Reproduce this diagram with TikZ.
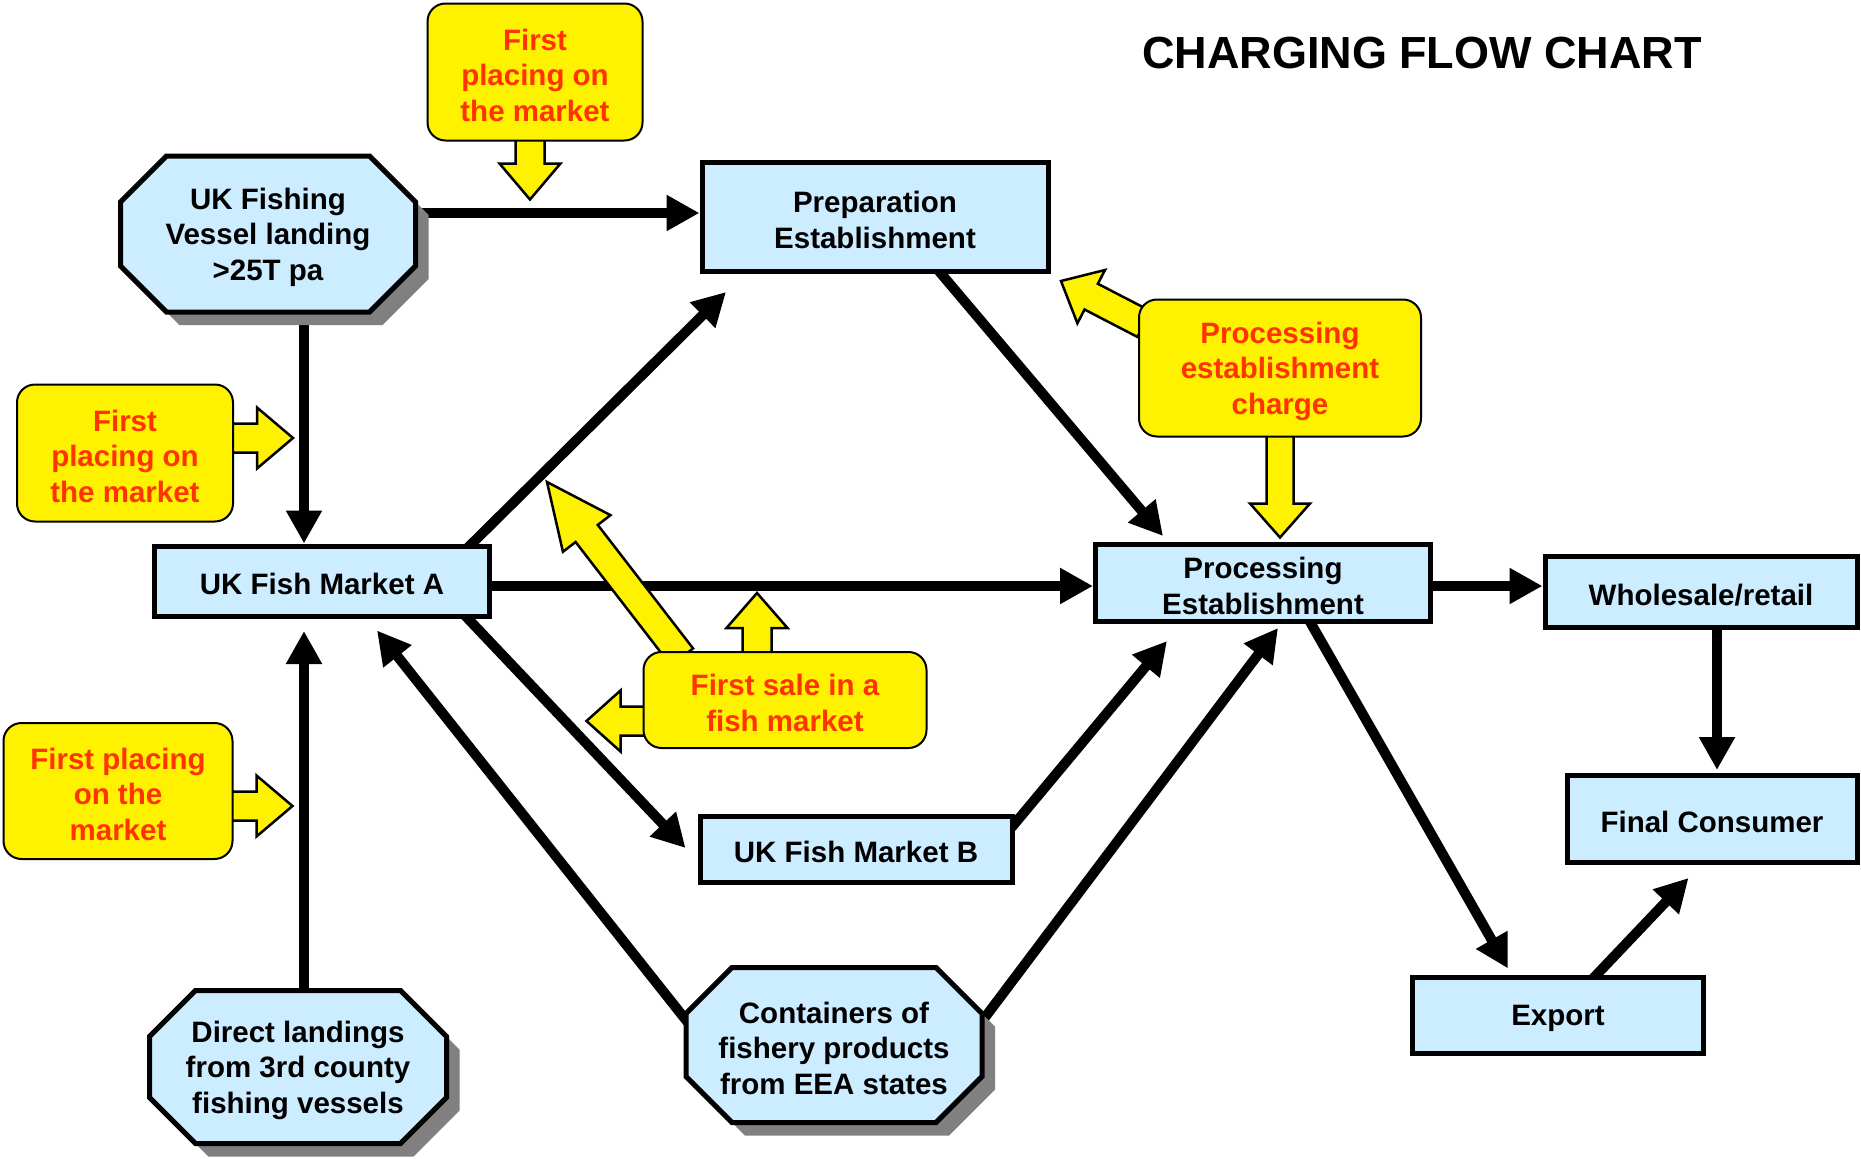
\documentclass[tikz,border=0pt]{standalone}
\usepackage{fontspec}
\setmainfont{Liberation Sans}
\usetikzlibrary{arrows.meta,calc}
\pgfdeclarelayer{back}\pgfdeclarelayer{bg}\pgfdeclarelayer{mid}
\pgfsetlayers{back,bg,mid,main}
\definecolor{boxblue}{HTML}{CCECFF}
\definecolor{redtext}{HTML}{FF3300}
\definecolor{shadowgray}{HTML}{808080}
\newcommand\boxfont{\fontsize{29.5}{35.5}\selectfont\bfseries}
\newcommand\zs{\rule[-1pt]{0pt}{29pt}}
\tikzset{
  boxtext/.style={align=center, font=\boxfont, inner sep=0pt},
  bluebox/.style={boxtext, draw, line width=5pt, fill=boxblue},
  yellowbox/.style={boxtext, draw, line width=2pt, fill=yellow, rounded corners=18pt, text=redtext},
  octtext/.style={boxtext, outer sep=0pt},
  conn/.style={line width=10pt, -{Triangle[length=33pt,width=34pt]}},
  yarr/.style={fill=yellow, draw=black, line width=2.5pt, line join=miter},
}
% octagon with shadow: name, cx, cy, w, h, text
\newcommand\octo[6]{%
  \pgfmathsetmacro\oa{#4/2-2.5}\pgfmathsetmacro\ob{#5/2-2.5}%
  \fill[shadowgray,shift={(#2+13,#3+13)}] (-\oa+46,-\ob) -- (\oa-46,-\ob) -- (\oa,-\ob+46) -- (\oa,\ob-46) -- (\oa-46,\ob) -- (-\oa+46,\ob) -- (-\oa,\ob-46) -- (-\oa,-\ob+46) -- cycle;
  \filldraw[fill=boxblue,line width=5pt,shift={(#2,#3)}] (-\oa+46,-\ob) -- (\oa-46,-\ob) -- (\oa,-\ob+46) -- (\oa,\ob-46) -- (\oa-46,\ob) -- (-\oa+46,\ob) -- (-\oa,\ob-46) -- (-\oa,-\ob+46) -- cycle;
  \node[octtext,minimum width=#4pt,minimum height=#5pt] (#1) at (#2,#3) {#6};
}
% yellow block arrow: start, tip, shaft half width, head half width, head length
\newcommand\yarrow[5]{%
  \coordinate (yaC) at ($(#2)!#5!(#1)$);
  \filldraw[yarr] ($(#1)!#3!90:(#2)$) -- ($(yaC)!#3!90:(#2)$) -- ($(yaC)!#4!90:(#2)$) -- (#2) -- ($(yaC)!#4!-90:(#2)$) -- ($(yaC)!#3!-90:(#2)$) -- ($(#1)!#3!-90:(#2)$) -- cycle;
}
\begin{document}
\begin{tikzpicture}[x=1pt,y=-1pt]
\useasboundingbox (0,0) rectangle (1861,1159);
\begin{pgfonlayer}{back}
\fill[white] (0,0) rectangle (1861,1159);
\end{pgfonlayer}

\node[font=\fontsize{45}{50}\selectfont\bfseries] (title) at (1422,53) {CHARGING FLOW CHART};

% blue boxes
\node[bluebox, minimum width=346pt, minimum height=109pt] (prep) at (875,217) {\zs Preparation\\\zs Establishment};
\node[bluebox, minimum width=335pt, minimum height=70pt] (marketA) at (322,581) {\zs UK Fish Market A};
\node[bluebox, minimum width=335pt, minimum height=77pt] (proc) at (1263,583) {\zs Processing\\\zs Establishment};
\node[bluebox, minimum width=312pt, minimum height=71pt] (wholesale) at (1701,592) {\zs Wholesale/retail};
\node[bluebox, minimum width=290pt, minimum height=87pt] (final) at (1712,819) {\zs Final Consumer};
\node[bluebox, minimum width=291pt, minimum height=76pt] (export) at (1558,1015) {\zs Export};
\node[bluebox, minimum width=312pt, minimum height=66pt] (marketB) at (856,849) {\zs UK Fish Market B};

% octagons
\octo{vessel}{268}{234}{300}{161}{\zs UK Fishing\\\zs Vessel landing\\\zs >25T pa}
\octo{direct}{298}{1067}{302}{158}{\zs Direct landings\\\zs from 3rd county\\\zs fishing vessels}
\octo{containers}{834}{1045}{301}{160}{\zs Containers of\\\zs fishery products\\\zs from EEA states}

% yellow boxes
\node[yellowbox, minimum width=215pt, minimum height=137pt] (y1) at (535,72) {\zs First\\\zs placing on\\\zs the market};
\node[yellowbox, minimum width=216pt, minimum height=137pt] (y2) at (125,453) {\zs First\\\zs placing on\\\zs the market};
\node[yellowbox, minimum width=283pt, minimum height=96pt] (y3) at (785,700) {\zs First sale in a\\\zs fish market};
\node[yellowbox, minimum width=282pt, minimum height=137pt] (y4) at (1280,368) {\zs Processing\\\zs establishment\\\zs charge};
\node[yellowbox, minimum width=229pt, minimum height=136pt] (y5) at (118,791) {\zs First placing\\\zs on the\\\zs market};

% black connectors
\begin{pgfonlayer}{bg}
\draw[conn] ($(vessel.east)+(0,-21)$) -- ($(prep.west)+(0,-4)$);
\draw[conn] ($(vessel.south)+(36,0)$) -- ($(marketA.north)+(-18,0)$);
\draw[conn] ($(direct.north)+(6,0)$) -- ($(marketA.south)+(-18,12.5)$);
\draw[conn] ($(containers.west)+(4,-23)$) -- ($(marketA.south)+(55,12)$);
\draw[conn] ($(marketA.north east)+(-24,4)$) -- ($(prep.south west)+(26.5,18)$);
\draw[conn] ($(marketA.east)+(0,5)$) -- ($(proc.west)+(0,3)$);
\draw[conn] ($(marketA.south east)+(-27,-3)$) -- ($(marketB.west)+(-12,-1)$);
\draw[conn] ($(prep.south)+(63,-4)$) -- ($(proc.north west)+(70,-6)$);
\draw[conn] ($(marketB.north east)+(-3,14)$) -- ($(proc.south west)+(74,17)$);
\draw[conn] ($(containers.east)+(0,-27)$) -- ($(proc.south)+(15,4)$);
\draw[conn] ($(proc.east)+(0,3)$) -- ($(wholesale.west)+(0,-6)$);
\draw[conn] ($(wholesale.south)+(16,0)$) -- ($(final.north)+(5,-3)$);
\draw[conn] ($(proc.south)+(46,-4)$) -- ($(export.north west)+(98,-6)$);
\draw[conn] ($(export.north)+(35,4)$) -- ($(final.south west)+(124,13)$);
\end{pgfonlayer}

% yellow arrows
\begin{pgfonlayer}{mid}
\coordinate (a1s) at ($(y1.south)+(-5,-6)$); \coordinate (a1e) at ($(y1.south)+(-5,58)$);
\coordinate (a2s) at ($(y2.east)+(-6,-15)$); \coordinate (a2e) at ($(y2.east)+(59,-15)$);
\coordinate (a5s) at ($(y5.east)+(-6,15)$); \coordinate (a5e) at ($(y5.east)+(59,15)$);
\coordinate (a3us) at ($(y3.north)+(-28,6)$); \coordinate (a3ue) at ($(y3.north)+(-28,-58)$);
\coordinate (a3ls) at ($(y3.west)+(6,21)$); \coordinate (a3le) at ($(y3.west)+(-56,21)$);
\coordinate (a3bs) at ($(y3.north)+(-103,6)$); \coordinate (a3be) at ($(y3.north)+(-238,-169)$);
\coordinate (a4ds) at ($(y4.south)+(0,-6)$); \coordinate (a4de) at ($(y4.south)+(0,100)$);
\coordinate (a4ls) at ($(y4.west)+(6,-44)$); \coordinate (a4le) at ($(y4.west)+(-77,-87)$);
\yarrow{a1s}{a1e}{14.5pt}{30.5pt}{36pt}
\yarrow{a2s}{a2e}{14.5pt}{30.5pt}{36pt}
\yarrow{a5s}{a5e}{14.5pt}{30.5pt}{36pt}
\yarrow{a3us}{a3ue}{14.5pt}{30.5pt}{35pt}
\yarrow{a3ls}{a3le}{14.5pt}{30.5pt}{34pt}
\yarrow{a3bs}{a3be}{14pt}{30pt}{65pt}
\yarrow{a4ds}{a4de}{13.5pt}{30pt}{34pt}
\yarrow{a4ls}{a4le}{14.5pt}{30pt}{34pt}
\end{pgfonlayer}
\end{tikzpicture}
\end{document}
